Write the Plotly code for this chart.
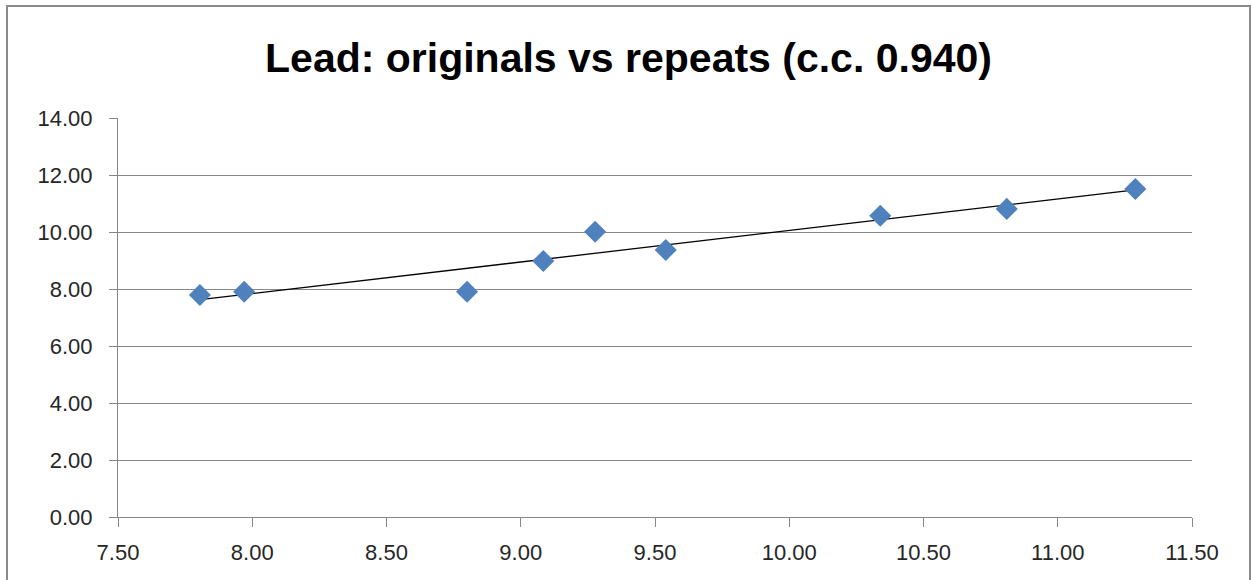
import numpy as np
import plotly.graph_objects as go

# Data
originals = [7.805, 7.970, 8.800, 9.084, 9.277, 9.540, 10.339, 10.810, 11.289]
repeats = [7.79, 7.905, 7.905, 8.98, 10.01, 9.37, 10.57, 10.81, 11.51]
title_text = "Lead: originals vs repeats (c.c. 0.940)"
x_ticks = [7.5, 8.0, 8.5, 9.0, 9.5, 10.0, 10.5, 11.0, 11.5]
y_ticks = [0, 2, 4, 6, 8, 10, 12, 14]

# Linear trendline (least squares), spanning the data range
slope, intercept = np.polyfit(originals, repeats, 1)
tx = [min(originals), max(originals)]
ty = [slope * v + intercept for v in tx]

W, H = 1252, 580
ML, MR, MT, MB = 118, 60, 118, 63
pw, ph = W - ML - MR, H - MT - MB

grey = "#878787"

fig = go.Figure()
fig.add_trace(go.Scatter(
    x=tx, y=ty, mode="lines",
    line=dict(color="#000000", width=1.3),
    hoverinfo="skip", showlegend=False,
))
fig.add_trace(go.Scatter(
    x=originals, y=repeats, mode="markers",
    marker=dict(symbol="diamond", size=17, color="#4F81BD",
                line=dict(width=0)),
    showlegend=False,
))

# Outer chart frame
fig.add_shape(
    type="rect", xref="paper", yref="paper",
    x0=(7 - ML) / pw, x1=(1250 - ML) / pw,
    y0=(H - MB - 600) / ph, y1=(H - MB - 6) / ph,
    line=dict(color="#8a8a8a", width=2), fillcolor="rgba(0,0,0,0)",
    layer="below",
)

font_ticks = dict(family="Liberation Sans, Arial, sans-serif", size=22, color="#262626")

fig.update_layout(
    width=W, height=H,
    margin=dict(l=ML, r=MR, t=MT, b=MB, pad=0),
    paper_bgcolor="white", plot_bgcolor="white",
    title=dict(
        text=title_text, x=0.502, xref="container",
        xanchor="center", y=1 - 58 / H, yref="container", yanchor="middle",
        font=dict(family="Liberation Sans, Arial, sans-serif", size=41,
                  color="#000000", weight="bold"),
    ),
    xaxis=dict(
        range=[7.5, 11.5], tickvals=x_ticks, tickformat=".2f",
        showgrid=False, zeroline=False,
        showline=True, linecolor=grey, linewidth=1,
        ticks="outside", ticklen=9, tickcolor=grey, tickwidth=1,
        tickfont=font_ticks, ticklabelstandoff=7,
    ),
    yaxis=dict(
        range=[0, 14], tickvals=y_ticks, tickformat=".2f",
        showgrid=True, gridcolor=grey, gridwidth=1, zeroline=False,
        showline=True, linecolor=grey, linewidth=1,
        ticks="outside", ticklen=8, tickcolor=grey, tickwidth=1,
        tickfont=font_ticks, ticklabelstandoff=12,
    ),
)

fig.write_html(
    "out.html",
    config={"displayModeBar": False},
    post_script="document.body.style.margin='0';document.body.style.overflow='hidden';",
)
